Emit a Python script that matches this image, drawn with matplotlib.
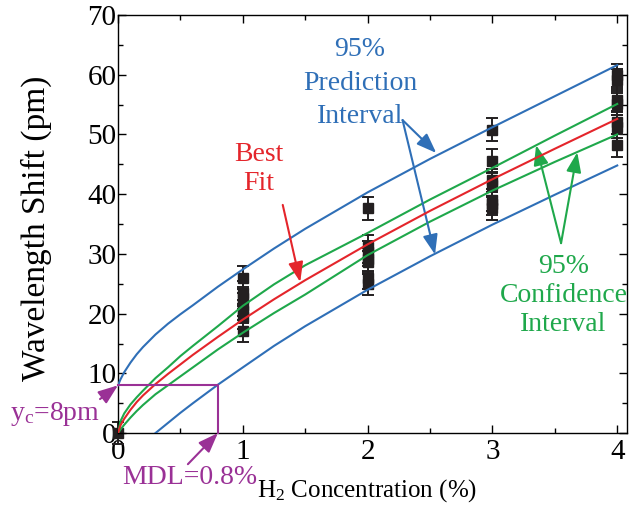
import numpy as np
import matplotlib
matplotlib.use('Agg')
import matplotlib.pyplot as plt

plt.rcParams['font.family'] = ['Liberation Serif', 'DejaVu Serif']
plt.rcParams['mathtext.fontset'] = 'custom'
plt.rcParams['mathtext.rm'] = 'Liberation Serif'
plt.rcParams['mathtext.it'] = 'Liberation Serif:italic'

# measured points (H2 %, shift pm) with error bars
conc = [0,
        1, 1, 1, 1, 1, 1, 1,
        2, 2, 2, 2, 2, 2, 2,
        3, 3, 3, 3, 3, 3, 3,
        4, 4, 4, 4, 4, 4, 4]
shift = [0,
         26.0, 23.5, 22.6, 21.5, 20.4, 19.4, 17.1,
         37.6, 31.2, 30.3, 29.1, 28.6, 26.0, 25.0,
         50.8, 45.6, 42.3, 41.6, 39.0, 38.4, 37.6,
         59.9, 59.1, 55.7, 55.1, 52.0, 51.3, 48.2]
shift_err = 1.9

# fitted curves
fit_x = [0, 0.02, 0.05, 0.1, 0.15, 0.2, 0.3, 0.4, 0.5, 0.6, 0.8, 1.0,
         1.25, 1.5, 2.0, 2.5, 3.0, 3.5, 4.0]
best_fit = [0, 1.3, 2.4, 3.9, 5.2, 6.3, 8.2, 9.9, 11.5, 13.1, 16.1, 19.0,
            22.4, 25.6, 31.6, 37.2, 42.5, 47.6, 52.6]
conf_hi = [0, 2.0, 3.3, 4.8, 6.0, 7.1, 9.2, 11.0, 12.9, 14.6, 17.9, 21.3,
           24.9, 28.1, 33.5, 39.1, 44.4, 49.8, 55.1]
conf_lo = [0, 0.6, 1.4, 2.6, 3.7, 4.7, 6.5, 8.0, 9.5, 11.0, 14.0, 16.8,
           20.1, 23.2, 29.8, 35.4, 40.6, 45.4, 50.0]
pred_hi = [8.0, 9.0, 10.2, 11.8, 13.2, 14.4, 16.5, 18.3, 19.9, 21.4, 24.5, 27.4,
           30.9, 34.2, 40.3, 45.9, 51.2, 56.4, 61.6]
pred_lo_x = [0.3, 0.4, 0.5, 0.6, 0.8, 1.0, 1.25, 1.5, 2.0, 2.5, 3.0, 3.5, 4.0]
pred_lo = [0, 1.7, 3.4, 5.0, 8.1, 11.0, 14.6, 17.9, 24.0, 29.6, 34.9, 39.9, 44.8]

yc = 8
mdl = 0.8

blue = '#2f6fb7'
red = '#e4252b'
green = '#1fa84b'
purple = '#9a3196'
black = '#231f20'

fig = plt.figure(figsize=(6.31, 5.15), dpi=100)
ax = fig.add_axes([0.187, 0.159, 0.807, 0.812])

ax.errorbar(conc, shift, yerr=shift_err, fmt='s', color=black, ms=7,
            elinewidth=1.4, capsize=4, capthick=1.4, zorder=2, clip_on=False)

ax.plot(fit_x, pred_hi, color=blue, lw=1.5, zorder=3)
ax.plot(pred_lo_x, pred_lo, color=blue, lw=1.5, zorder=3)
ax.plot(fit_x, conf_hi, color=green, lw=1.5, zorder=3)
ax.plot(fit_x, conf_lo, color=green, lw=1.5, zorder=3)
ax.plot(fit_x, best_fit, color=red, lw=1.5, zorder=4)

# limit of detection box
ax.plot([0, mdl, mdl], [yc, yc, 0], color=purple, lw=1.5, zorder=5, clip_on=False)

ax.set_xlim(0, 4.08)
ax.set_ylim(0, 70)
ax.set_xticks([0, 1, 2, 3, 4])
ax.set_xticks(np.arange(0, 4.01, 0.5), minor=True)
ax.set_yticks(np.arange(0, 71, 10))
ax.set_yticks(np.arange(0, 71, 5), minor=True)
ax.tick_params(which='both', direction='in', top=True, right=True, width=1)
ax.tick_params(which='major', length=6)
ax.tick_params(which='minor', length=3.5)
ax.tick_params(axis='x', labelsize=21, pad=4)
ax.tick_params(axis='y', labelsize=21, pad=1)
for s in ax.spines.values():
    s.set_linewidth(1)

ax.set_xlabel('H$_2$ Concentration (%)', fontsize=18)
ax.xaxis.set_label_coords(0.49, -0.105)
ax.set_ylabel('Wavelength Shift (pm)', fontsize=24)
ax.yaxis.set_label_coords(-0.13, 0.49)

arrow = dict(arrowstyle='-|>,head_length=0.8,head_width=0.3', lw=1.5,
             mutation_scale=15, shrinkA=0, shrinkB=0)

ax.text(1.94, 58.6, '95%\nPrediction\nInterval', color=blue, fontsize=20,
        ha='center', va='center', linespacing=1.45)
ax.annotate('', xy=(2.55, 46.9), xytext=(2.28, 52.4),
            arrowprops=dict(arrow, color=blue))
ax.annotate('', xy=(2.54, 29.9), xytext=(2.28, 52.4),
            arrowprops=dict(arrow, color=blue))

ax.text(1.13, 44.2, 'Best\nFit', color=red, fontsize=20,
        ha='center', va='center', linespacing=1.25)
ax.annotate('', xy=(1.46, 25.3), xytext=(1.32, 38.2),
            arrowprops=dict(arrow, color=red))

ax.text(3.57, 23.0, '95%\nConfidence\nInterval', color=green, fontsize=20,
        ha='center', va='center', linespacing=1.2, clip_on=False)
ax.annotate('', xy=(3.35, 48.2), xytext=(3.55, 31.8),
            arrowprops=dict(arrow, color=green))
ax.annotate('', xy=(3.68, 47.0), xytext=(3.55, 31.8),
            arrowprops=dict(arrow, color=green))

ax.text(-0.504, 3.2, 'y$_\\mathregular{c}$=8pm', color=purple, fontsize=20,
        ha='center', va='center', clip_on=False)
ax.annotate('', xy=(0, yc), xytext=(-0.144, 5.7), annotation_clip=False,
            arrowprops=dict(arrow, color=purple))
ax.text(0.576, -7.4, 'MDL=0.8%', color=purple, fontsize=20,
        ha='center', va='center', clip_on=False)
ax.annotate('', xy=(mdl, 0), xytext=(0.56, -5.2), annotation_clip=False,
            arrowprops=dict(arrow, color=purple))

fig.savefig('out.png', dpi=100)
